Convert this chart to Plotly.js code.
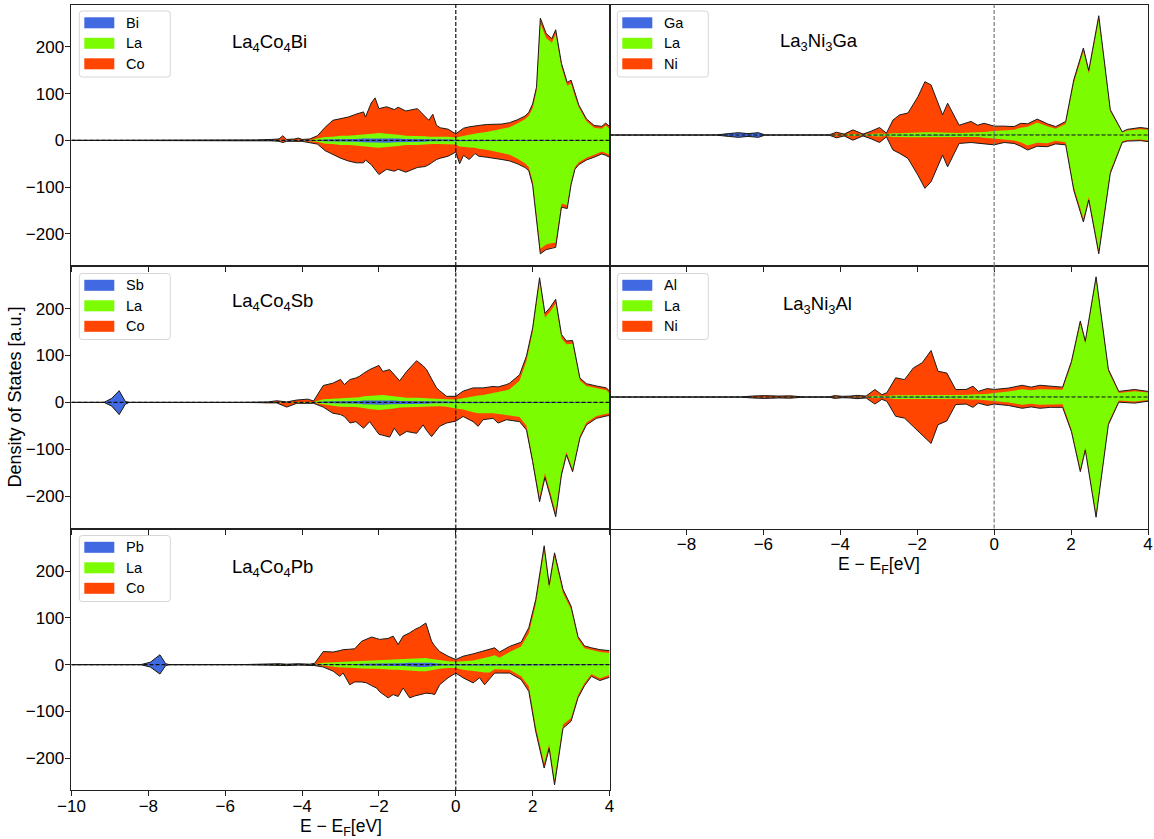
<!DOCTYPE html>
<html><head><meta charset="utf-8">
<script src="https://cdn.plot.ly/plotly-3.0.1.min.js"></script>
<style>html,body{margin:0;padding:0;background:#fff}#chart{width:1154px;height:839px}</style>
</head><body><div id="chart"></div>
<script>
// ---------- DATA ----------
// Energies E - E_F [eV]; spin-down values stored as magnitudes (drawn negative)

// Panel 1: La4Co4Bi
const E_Bi = [-10, -5.6, -5.2, -4.8, -4.6, -4.5, -4.4, -4.2, -4.1, -4.0,
 -3.8, -3.6, -3.4, -3.2, -3.0, -2.8, -2.6, -2.4, -2.35, -2.2,
 -2.1, -2.0, -1.8, -1.6, -1.5, -1.3, -1.0, -0.8, -0.7, -0.6,
 -0.5, -0.4, -0.2, 0, 0.1, 0.2, 0.35, 0.5, 0.6, 0.8,
 1.0, 1.2, 1.4, 1.6, 1.8, 1.9, 2.0, 2.1, 2.2, 2.35,
 2.5, 2.6, 2.75, 2.9, 3.0, 3.1, 3.2, 3.4, 3.6, 3.8,
 3.9, 4.0];
const Bi_up_Bi = [0, 0, 0, 0, 0, 0.5, 0, 0, 0, 0,
 0, 1, 2, 2, 3, 3, 3, 4, 4, 4,
 5, 5, 5, 4, 4, 3, 3, 3, 2, 2,
 2, 2, 2, 1, 1, 1, 1, 1, 1, 1,
 1, 1, 1, 1, 1, 1, 1, 1, 1, 1,
 1, 1, 1, 1, 1, 1, 1, 1, 0.5, 0.5,
 0.5, 0.5];
const Bi_up_La = [0, 0, 0, 0.5, 0.5, 1, 0.5, 0.5, 0.5, 0.5,
 1, 3, 5, 6, 7, 7, 8, 9, 9, 10,
 10, 11, 10, 9, 8, 7, 7, 6, 6, 6,
 6, 6, 6, 5, 7, 9, 11, 13, 15, 17,
 20, 23, 27, 35, 44, 52, 68, 104, 250, 218,
 208, 227, 156, 116, 121, 93, 70, 40, 26.5, 24.5,
 31.5, 24.5];
const Bi_up_Co = [0, 0, 1, 1.5, 2.5, 8.5, 1.5, 2.5, 4.5, 1.5,
 2, 6, 21, 35, 36, 40, 45, 48, 37, 66,
 76, 52, 57, 53, 59, 53, 58, 41, 35, 48,
 24, 19, 16, 8, 12, 16, 17, 16, 16, 16,
 13, 11, 10, 8, 7, 7, 9, 9, 11, 10,
 9, 9, 8, 7, 7, 6, 5, 5, 5, 5,
 5, 5];
const Bi_dn_Bi = Bi_up_Bi.slice();
const Bi_dn_La = [0, 0, 0, 0, 0.5, 0.5, 0.5, 0.5, 0.5, 0.5,
 1, 2, 5, 6, 7, 7, 8, 9, 9, 10,
 10, 11, 10, 9, 8, 7, 7, 6, 6, 6,
 6, 6, 6, 8, 12, 12, 14, 15, 17, 19,
 22, 26, 30, 38, 48, 56, 86, 160, 231, 222,
 219, 218, 134, 138, 88, 56, 46, 36, 30.5, 23.5,
 26.5, 30.5];
const Bi_dn_Co = [0, 0, 1, 1, 1.5, 3.5, 1.5, 1.5, 2.5, 1.5,
 4, 5, 15, 22, 28, 34, 37, 35, 29, 38,
 47, 57, 47, 53, 50, 58, 48, 47, 44, 38,
 33, 30, 26, 16, 37, 19, 26, 12, 16, 16,
 15, 14, 13, 11, 9, 8, 9, 9, 11, 11,
 10, 10, 8, 7, 6, 5, 5, 5, 5, 5,
 5, 5];

// Panel 2: La4Co4Sb
const E_Sb = [-10, -9.15, -8.95, -8.76, -8.6, -8.5, -5.6, -5.2, -4.9, -4.66,
 -4.4, -4.14, -3.85, -3.7, -3.45, -3.2, -3.0, -2.9, -2.75, -2.6,
 -2.5, -2.4, -2.24, -2.0, -1.9, -1.72, -1.6, -1.46, -1.28, -1.02,
 -0.85, -0.76, -0.63, -0.5, -0.42, -0.24, 0, 0.19, 0.45, 0.58,
 0.71, 0.97, 1.1, 1.32, 1.4, 1.66, 1.84, 2.0, 2.18, 2.32,
 2.45, 2.6, 2.75, 2.88, 3.04, 3.23, 3.4, 3.66, 3.92, 4.0];
const Sb_up_Sb = [0, 0, 9, 25, 2, 0, 0, 0, 0, 0,
 0, 0, 0, 0, 2, 2, 3, 3, 3, 3,
 3, 4, 4, 5, 5, 4, 4, 3, 3, 3,
 3, 3, 2, 2, 2, 2, 1, 1, 1, 1,
 1, 1, 1, 1, 1, 1, 1, 1, 1, 1,
 1, 1, 1, 1, 1, 1, 1, 0.5, 0.5, 0.5];
const Sb_up_La = [0, 0, 0, 0, 0, 0, 0, 0, 0, 0.5,
 0, 0.5, 1, 1, 5, 6, 7, 7, 7, 8,
 8, 9, 10, 11, 11, 10, 9, 8, 7, 7,
 6, 6, 6, 6, 6, 5, 5, 8, 13, 14,
 15, 19, 20, 25, 27, 45, 88, 149, 256, 180,
 192, 210, 136, 123, 124, 46, 34, 29.5, 25.5, 18.5];
const Sb_up_Co = [0, 0, 0, 0, 0, 0, 0, 1, 1, 3,
 1, 4.5, 6, 2, 29, 33, 39, 28, 39, 41,
 45, 49, 56, 63, 50, 56, 45, 35, 56, 79,
 69, 61, 42, 23, 17, 6, 7, 15, 17, 16,
 15, 14, 12, 12, 13, 13, 10, 9, 9, 9,
 9, 9, 8, 7, 7, 5, 5, 5, 5, 5];
const Sb_dn_Sb = [0, 0, 8, 26, 4, 0, 0, 0, 0, 0,
 0, 0, 0, 0, 1, 2, 3, 3, 3, 3,
 3, 4, 4, 5, 5, 4, 4, 3, 3, 3,
 3, 3, 2, 2, 2, 2, 1, 1, 1, 1,
 1, 1, 1, 1, 1, 1, 1, 1, 1, 1,
 1, 1, 1, 1, 1, 1, 1, 0.5, 0.5, 0.5];
const Sb_dn_La = [0, 0, 0, 0, 0, 0, 0, 0, 0, 0,
 1, 0.5, 0.5, 0.5, 3, 5, 6, 6, 7, 7,
 8, 9, 10, 11, 11, 10, 9, 8, 7, 7,
 6, 6, 6, 6, 6, 7, 12, 14, 20, 22,
 22, 22, 25, 26, 27, 30, 49, 116, 202, 150,
 188, 234, 147, 105, 141, 70, 42, 28.5, 23.5, 22.5];
const Sb_dn_Co = [0, 0, 0, 0, 0, 0, 0, 1, 2, 1,
 9, 1.5, 1.5, 1.5, 6, 16, 17, 21, 34, 31,
 37, 42, 27, 52, 54, 60, 42, 60, 52, 56,
 39, 51, 65, 52, 43, 35, 27, 15, 20, 28,
 14, 11, 18, 10, 10, 10, 9, 9, 9, 9,
 9, 9, 7, 6, 6, 5, 5, 5, 5, 5];

// Panel 3: La4Co4Pb
const E_Pb = [-10, -8.2, -7.95, -7.7, -7.55, -7.45, -5.6, -5.2, -4.9, -4.6,
 -4.4, -4.1, -3.8, -3.67, -3.45, -3.19, -3.02, -2.93, -2.76, -2.63,
 -2.45, -2.32, -2.19, -2.06, -1.98, -1.76, -1.63, -1.5, -1.37, -1.2,
 -1.07, -0.94, -0.78, -0.63, -0.55, -0.42, -0.2, 0, 0.19, 0.45,
 0.62, 0.75, 0.88, 1.01, 1.14, 1.4, 1.7, 1.9, 2.08, 2.3,
 2.43, 2.57, 2.79, 3.0, 3.18, 3.35, 3.53, 3.75, 4.0];
const Pb_up_Pb = [0, 0, 5, 21, 2, 0, 0, 0, 0, 0,
 0, 0, 0, 0, 1, 1, 1, 1, 1, 1,
 2, 2, 2, 2, 2, 2, 3, 3, 3, 4,
 4, 5, 5, 4, 3, 2, 1, 1, 1, 1,
 1, 1, 1, 1, 1, 1, 1, 1, 1, 1,
 1, 1, 1, 1, 1, 1, 1, 1, 1];
const Pb_up_La = [0, 0, 0, 0, 0, 0, 0, 0, 0, 0.5,
 0, 0.5, 0, 1, 3, 4, 5, 5, 5, 6,
 6, 7, 7, 7, 7, 8, 8, 8, 8, 8,
 9, 9, 9, 8, 8, 7, 6, 5, 6, 8,
 11, 13, 16, 19, 14, 26, 38, 66, 127, 243,
 161, 229, 152, 117, 54, 34, 30, 26, 24];
const Pb_up_Co = [0, 0, 0, 0, 0, 0, 0, 1, 1, 1.5,
 1, 1.5, 1, 2, 24, 22, 24, 26, 27, 27,
 42, 46, 50, 47, 45, 46, 50, 32, 50, 56,
 62, 66, 75, 38, 29, 19, 11, 5, 11, 14,
 15, 16, 16, 16, 12, 12, 9, 12, 11, 10,
 9, 9, 8, 7, 5, 5, 5, 5, 5];
const Pb_dn_Pb = [0, 0, 5, 20, 2, 0, 0, 0, 0, 0,
 0, 0, 0, 0, 1, 1, 1, 1, 1, 1,
 2, 2, 2, 2, 2, 2, 3, 3, 3, 4,
 4, 5, 5, 4, 3, 2, 1, 1, 1, 1,
 1, 1, 1, 1, 1, 1, 1, 1, 1, 1,
 1, 1, 1, 1, 1, 1, 1, 1, 1];
const Pb_dn_La = [0, 0, 0, 0, 0, 0, 0, 0, 0, 0,
 0.5, 0, 0, 0.5, 1, 3, 5, 5, 5, 6,
 6, 7, 7, 7, 7, 8, 8, 8, 8, 8,
 9, 9, 9, 8, 8, 7, 6, 6, 10, 13,
 14, 16, 16, 9, 9, 10, 24, 45, 132, 210,
 169, 247, 127, 113, 64, 39, 19, 28, 21];
const Pb_dn_Co = [0, 0, 0, 0, 0, 0, 0, 1, 1, 1,
 1.5, 1, 1, 1.5, 3, 10, 19, 12, 37, 30,
 29, 30, 36, 41, 49, 61, 53, 57, 39, 59,
 54, 50, 47, 50, 53, 34, 21, 11, 17, 25,
 13, 26, 13, 8, 8, 7, 7, 11, 10, 10,
 9, 9, 8, 7, 6, 5, 5, 5, 5];

// Panel 4: La3Ni3Ga
const E_Ga = [-10, -7.25, -6.9, -6.65, -6.4, -6.13, -5.95, -4.3, -4.1, -3.9,
 -3.67, -3.41, -3.2, -2.98, -2.8, -2.63, -2.46, -2.24, -1.98, -1.8,
 -1.64, -1.34, -1.21, -0.91, -0.6, -0.43, -0.26, 0, 0.26, 0.52,
 0.69, 0.87, 1.12, 1.38, 1.6, 1.86, 2.07, 2.32, 2.46, 2.72,
 3.02, 3.33, 3.46, 3.8, 4.0];
const Ga_up_Ga = [0, 0, 3, 5, 3, 5, 0, 0, 0, 0,
 0, 0, 0.5, 1, 1, 1, 1, 1, 1, 1,
 1, 1, 1, 0.5, 0.5, 0.5, 0.5, 0.5, 0.5, 0.5,
 0.5, 0.5, 0.5, 0.5, 0.5, 0.5, 0.5, 0.5, 0.5, 0.5,
 0.5, 0.5, 0.5, 0.5, 0.5];
const Ga_up_La = [0, 0, 0, 0, 0, 0, 0, 0, 1, 0.5,
 2, 0.5, 1.5, 2, 1, 3, 3, 4, 4, 5,
 5, 4, 4, 4, 5, 5, 6, 8, 10, 11,
 15, 17, 26, 18, 13, 23, 110, 178, 131, 246,
 49, 5, 9, 12, 11];
const Ga_up_Ni = [0, 0, 0, 0, 0, 0, 0, 0, 5, 1.5,
 9, 1.5, 6, 13, 2, 28, 39, 42, 77, 108,
 101, 38, 63, 16.5, 23.5, 15.5, 18.5, 10.5, 8.5, 6.5,
 9.5, 6.5, 7.5, 5.5, 4.5, 5.5, 7.5, 7.5, 6.5, 8.5,
 4.5, 1.5, 2.5, 3.5, 2.5];
const Ga_dn_Ga = Ga_up_Ga.slice();
const Ga_dn_La = [0, 0, 0, 0, 0, 0, 0, 0, 1, 0.5,
 2, 0.5, 1.5, 2, 1, 3, 3, 4, 4, 5,
 5, 4, 4, 4, 4, 4, 5, 8, 9, 11,
 15, 22, 16, 17, 12, 15, 110, 178, 132, 245,
 76, 13, 10, 9, 11];
const Ga_dn_Ni = [0, 0, 0, 0, 0, 0, 0, 0, 5, 1.5,
 9, 1.5, 6, 13, 2, 28, 35, 45, 81, 108,
 94, 38, 63, 13.5, 11.5, 12.5, 13.5, 12.5, 6.5, 6.5,
 8.5, 9.5, 7.5, 7.5, 6.5, 5.5, 7.5, 7.5, 6.5, 8.5,
 5.5, 2.5, 2.5, 2.5, 2.5];

// Panel 5: La3Ni3Al
const E_Al = [-10, -6.6, -6.3, -5.98, -5.6, -5.3, -4.93, -4.3, -4.15, -3.95,
 -3.74, -3.56, -3.33, -3.1, -2.92, -2.79, -2.56, -2.33, -2.1, -1.87,
 -1.64, -1.46, -1.23, -1.0, -0.73, -0.55, -0.41, -0.18, 0, 0.37,
 0.73, 0.96, 1.19, 1.46, 1.78, 2.01, 2.24, 2.37, 2.65, 2.97,
 3.24, 3.65, 4.0];
const Al_up_Al = [0, 0, 0.5, 0.5, 0.5, 0.5, 0, 0, 0, 0,
 0, 0, 0, 0.5, 0.5, 0.5, 1, 1, 1, 1,
 1, 1, 1, 0.5, 0.5, 0.5, 0.5, 0.5, 0.5, 0.5,
 0.5, 0.5, 0.5, 0.5, 0.5, 0.5, 0.5, 0.5, 0.5, 0.5,
 0.5, 0.5, 0.5];
const Al_up_La = [0, 0, 0, 0, 0, 0, 0, 0, 0.5, 0.5,
 0.5, 0.5, 0.5, 2, 1, 1.5, 3, 3, 3, 3,
 3, 3, 3, 3, 4, 5, 5, 6, 8, 11,
 16, 14, 16, 15, 15, 70, 155, 113, 249, 54,
 8, 12, 9];
const Al_up_Ni = [0, 0, 1.5, 2.5, 1.5, 2, 0, 0, 2.5, 1,
 1.5, 3, 1.5, 13.5, 3.5, 7, 37, 33, 58, 69,
 95, 51, 47, 12.5, 11.5, 17.5, 6.5, 11.5, 7.5, 7.5,
 8.5, 6.5, 8.5, 7.5, 5.5, 5.5, 6.5, 5.5, 6.5, 4.5,
 3.5, 3.5, 2.5];
const Al_dn_Al = Al_up_Al.slice();
const Al_dn_La = [0, 0, 0, 0, 0, 0, 0, 0, 0.5, 0.5,
 0.5, 0.5, 0.5, 2, 1, 1.5, 3, 3, 3, 3,
 3, 3, 3, 3, 4, 5, 5, 6, 8, 11,
 16, 14, 16, 15, 15, 68, 152, 107, 249, 54,
 7, 9, 6];
const Al_dn_Ni = [0, 0, 1.5, 2.5, 1.5, 2, 0, 0, 2.5, 1,
 1.5, 3, 1.5, 12.5, 3.5, 7, 37, 41, 59, 77,
 95, 55, 47, 12.5, 10.5, 16.5, 7.5, 11.5, 6.5, 6.5,
 7.5, 6.5, 7.5, 6.5, 6.5, 5.5, 6.5, 5.5, 6.5, 4.5,
 3.5, 3.5, 2.5];

const panelTitles = ['La<sub>4</sub>Co<sub>4</sub>Bi', 'La<sub>4</sub>Co<sub>4</sub>Sb', 'La<sub>4</sub>Co<sub>4</sub>Pb',
                     'La<sub>3</sub>Ni<sub>3</sub>Ga', 'La<sub>3</sub>Ni<sub>3</sub>Al'];
const speciesNames = [['Bi','La','Co'], ['Sb','La','Co'], ['Pb','La','Co'], ['Ga','La','Ni'], ['Al','La','Ni']];
const xTicksLeft = [-10, -8, -6, -4, -2, 0, 2, 4];
const xTicksRight = [-8, -6, -4, -2, 0, 2, 4];
const yTicks = [-200, -100, 0, 100, 200];

// ---------- STYLE ----------
const W = 1154, H = 839;
const FONT = 'Liberation Sans, Arial, Helvetica, sans-serif';
const COL = ['#4169E1', '#7CFC00', '#FF4500'];

const panels = [
  {E:E_Bi, up:[Bi_up_Bi, Bi_up_La, Bi_up_Co], dn:[Bi_dn_Bi, Bi_dn_La, Bi_dn_Co]},
  {E:E_Sb, up:[Sb_up_Sb, Sb_up_La, Sb_up_Co], dn:[Sb_dn_Sb, Sb_dn_La, Sb_dn_Co]},
  {E:E_Pb, up:[Pb_up_Pb, Pb_up_La, Pb_up_Co], dn:[Pb_dn_Pb, Pb_dn_La, Pb_dn_Co]},
  {E:E_Ga, up:[Ga_up_Ga, Ga_up_La, Ga_up_Ni], dn:[Ga_dn_Ga, Ga_dn_La, Ga_dn_Ni]},
  {E:E_Al, up:[Al_up_Al, Al_up_La, Al_up_Ni], dn:[Al_dn_Al, Al_dn_La, Al_dn_Ni]}
];

// subplot geometry (paper coords)
const XL = [0.061958, 0.528163], XR = [0.528163, 0.994801];
const R1 = [0.682956, 0.994636], R2 = [0.370083, 0.682956], R3 = [0.057807, 0.370083];
const geo = [
  {xd:XL, yd:R1, labelsX:false, right:false},
  {xd:XL, yd:R2, labelsX:false, right:false},
  {xd:XL, yd:R3, labelsX:true,  right:false},
  {xd:XR, yd:R1, labelsX:false, right:true},
  {xd:XR, yd:R2, labelsX:true,  right:true}
];
// legend box top-left corners and title anchors, in pixels
const legendBox = [[79.3, 11], [79.3, 273.5], [79.3, 535.5], [617.3, 11], [617.3, 273.5]];
const titlePx = [[231, 43], [231, 302], [231, 568], [779, 42], [782, 305]];

const px = v => v / W, py = v => 1 - v / H;

function cumulative(arrs, k) {
  return arrs[0].map((_, i) => { let s = 0; for (let j = 0; j <= k; j++) s += arrs[j][i]; return s; });
}

const traces = [];
const layout = {
  width: W, height: H,
  margin: {l:0, r:0, t:0, b:0},
  paper_bgcolor: '#fff', plot_bgcolor: '#fff',
  font: {family: FONT, color: '#000'},
  showlegend: false,
  annotations: [], shapes: []
};

panels.forEach((p, i) => {
  const n = i + 1;
  const xa = n === 1 ? 'x' : 'x' + n, ya = n === 1 ? 'y' : 'y' + n;
  const g = geo[i];
  // stacked layers: 2 = total, 1 = X+La, 0 = X
  for (let k = 2; k >= 0; k--) {
    const up = cumulative(p.up, k), dn = cumulative(p.dn, k);
    traces.push({
      type: 'scatter', mode: 'lines', xaxis: xa, yaxis: ya,
      x: p.E.concat(p.E.slice().reverse()),
      y: up.concat(dn.map(v => -v).reverse()),
      fill: 'toself', fillcolor: COL[k], line: {width: 0, color: COL[k]},
      name: speciesNames[i][k], hoverinfo: 'skip'
    });
  }
  const tUp = cumulative(p.up, 2), tDn = cumulative(p.dn, 2);
  [tUp, tDn.map(v => -v)].forEach(yy => traces.push({
    type: 'scatter', mode: 'lines', xaxis: xa, yaxis: ya, x: p.E, y: yy,
    line: {color: '#1a1a1a', width: 1}, hoverinfo: 'skip'
  }));

  const axBase = {showline: true, mirror: true, linecolor: '#222', linewidth: 1,
    zeroline: false, showgrid: false, tickfont: {family: FONT, size: 17, color: '#000'},
    ticks: 'outside', ticklen: 5, tickwidth: 1, tickcolor: '#222', fixedrange: true};
  layout['xaxis' + (n === 1 ? '' : n)] = Object.assign({}, axBase, {
    domain: g.xd, anchor: ya, range: [-10, 4], tickmode: 'array',
    tickvals: g.right ? xTicksRight : xTicksLeft, showticklabels: g.labelsX,
    ticklabelstandoff: -5
  });
  layout['yaxis' + (n === 1 ? '' : n)] = Object.assign({}, axBase, {
    domain: g.yd, anchor: xa, range: g.right ? [-280, 279] : [-269, 291],
    tickmode: 'array', tickvals: yTicks, showticklabels: !g.right,
    ticks: g.right ? '' : 'outside', ticklabelstandoff: -2
  });

  // legend (box, colour patches, labels)
  const [bx, by] = legendBox[i];
  const bw = 91, bh = 66, r = 3;
  const X0 = bx, X1 = bx + bw, Y0 = by, Y1 = by + bh;
  layout.shapes.push({
    type: 'path', xref: 'paper', yref: 'paper', layer: 'above',
    path: `M${px(X0 + r)},${py(Y0)} L${px(X1 - r)},${py(Y0)} Q${px(X1)},${py(Y0)} ${px(X1)},${py(Y0 + r)} ` +
          `L${px(X1)},${py(Y1 - r)} Q${px(X1)},${py(Y1)} ${px(X1 - r)},${py(Y1)} L${px(X0 + r)},${py(Y1)} ` +
          `Q${px(X0)},${py(Y1)} ${px(X0)},${py(Y1 - r)} L${px(X0)},${py(Y0 + r)} Q${px(X0)},${py(Y0)} ${px(X0 + r)},${py(Y0)} Z`,
    fillcolor: 'rgba(255,255,255,0.85)', line: {color: '#d6d6d6', width: 1}
  });
  const rowC = [11.8, 32.3, 52.8];
  for (let k = 0; k < 3; k++) {
    const cy = by + rowC[k];
    layout.shapes.push({type: 'rect', xref: 'paper', yref: 'paper', layer: 'above',
      x0: px(bx + 5), x1: px(bx + 35), y0: py(cy - 5.5), y1: py(cy + 5.5),
      fillcolor: COL[k], line: {width: 0}});
    layout.annotations.push({xref: 'paper', yref: 'paper', x: px(bx + 46), y: py(cy),
      xanchor: 'left', yanchor: 'middle', showarrow: false, borderpad: 0,
      text: speciesNames[i][k], font: {family: FONT, size: 14.5, color: '#000'}});
  }

  layout.annotations.push({
    xref: 'paper', yref: 'paper', x: px(titlePx[i][0]), y: py(titlePx[i][1]),
    xanchor: 'left', yanchor: 'middle', showarrow: false, borderpad: 0,
    text: panelTitles[i], font: {family: FONT, size: 18.5, color: '#000'}
  });
  // dashed reference lines: Fermi level and zero
  layout.shapes.push({type: 'line', xref: xa, yref: ya + ' domain', x0: 0, x1: 0, y0: 0, y1: 1,
    line: {color: g.right ? '#777' : '#111', width: 1.2, dash: '4px,2px'}});
  layout.shapes.push({type: 'line', xref: xa + ' domain', yref: ya, x0: 0, x1: 1, y0: 0, y1: 0,
    line: {color: '#111', width: 1.2, dash: '4px,2px'}});
});

// axis labels
layout.annotations.push(
  {xref: 'paper', yref: 'paper', x: px(340.5), y: py(827), xanchor: 'center', yanchor: 'middle', showarrow: false,
   text: 'E − E<sub>F</sub>[eV]', font: {family: FONT, size: 17.5, color: '#000'}},
  {xref: 'paper', yref: 'paper', x: px(878.7), y: py(565), xanchor: 'center', yanchor: 'middle', showarrow: false,
   text: 'E − E<sub>F</sub>[eV]', font: {family: FONT, size: 17.5, color: '#000'}},
  {xref: 'paper', yref: 'paper', x: px(14), y: py(397.5), xanchor: 'center', yanchor: 'middle', showarrow: false,
   textangle: -90, text: 'Density of States [a.u.]', font: {family: FONT, size: 18, color: '#000'}}
);

Plotly.newPlot('chart', traces, layout, {staticPlot: true, displayModeBar: false});
</script>
</body></html>
